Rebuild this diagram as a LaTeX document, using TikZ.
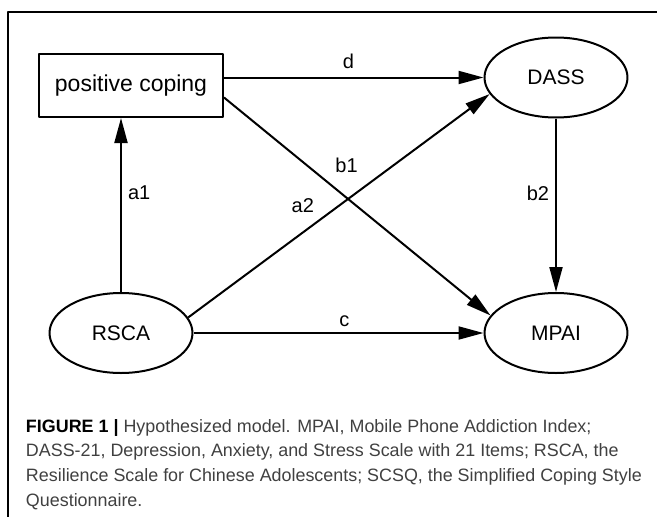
\documentclass[tikz,border=0pt]{standalone}
\usepackage{fontspec}
\setmainfont{Liberation Sans}
\usetikzlibrary{arrows.meta,shapes.geometric,positioning}
\begin{document}
\begin{tikzpicture}[x=1pt,y=-1pt,line join=round,>={Triangle[length=25pt,width=13pt]},line width=2pt]
	\tikzset{var/.style={draw,ellipse,inner sep=0pt,minimum width=143pt,minimum height=80pt,font=\fontsize{21}{25}\selectfont},
		lbl/.style={font=\fontsize{20}{24}\selectfont,inner sep=2pt},
		capline/.style={anchor=base west,inner sep=0pt,text=black!75,font=\fontsize{17.9}{22}\selectfont}}
	\useasboundingbox (0,0) rectangle (657,517);
	\draw[line width=1.4pt] (8,517)--(8,12)--(657,12);
	% variables
	\node[draw,rectangle,inner sep=0pt,minimum width=184pt,minimum height=63pt,font=\fontsize{23}{27}\selectfont] (coping) at (131,85.5) {positive coping};
	\node[var] (dass) at (556,77.5) {DASS};
	\node[var] (rsca) at (121,333) {RSCA};
	\node[var] (mpai) at (556,333) {MPAI};
	% paths
	\draw[->] (rsca.north) -- (rsca.north |- coping.south) node[lbl,pos=0.57,right=4pt] (a1) {a1};
	\draw[->] (coping.east |- dass.west) -- (dass.west) node[lbl,pos=0.48,above=6pt] (d) {d};
	\draw[->] ([yshift=-12pt]coping.east) -- (mpai.165) node[lbl,pos=0.46,above=22pt] (b1) {b1};
	\draw[->] (rsca.13) -- (dass.194) node[lbl,pos=0.5,left=22pt] (a2) {a2};
	\draw[->] (dass.south) -- (mpai.north) node[lbl,pos=0.43,left=4pt] (b2) {b2};
	\draw[->] (rsca.east) -- (mpai.west) node[lbl,pos=0.52,above=3pt] (c) {c};
	% caption
	\node[capline] (cap1) at (25,432) {\textbf{\color{black}FIGURE 1 |} Hypothesized model. MPAI, Mobile Phone Addiction Index;};
	\node[capline] (cap2) at (25,456.5) {DASS-21, Depression, Anxiety, and Stress Scale with 21 Items; RSCA, the};
	\node[capline] (cap3) at (25,481) {Resilience Scale for Chinese Adolescents; SCSQ, the Simplified Coping Style};
	\node[capline] (cap4) at (25,506.5) {Questionnaire.};
\end{tikzpicture}
\end{document}
